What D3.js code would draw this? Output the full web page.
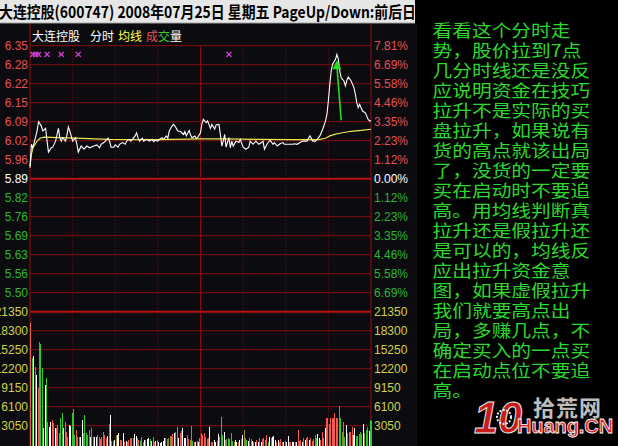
<!DOCTYPE html>
<html><head><meta charset="utf-8">
<script src="https://cdn.jsdelivr.net/npm/d3@7"></script>
<style>
html,body{margin:0;padding:0;background:#000;overflow:hidden;}
svg{display:block}
</style></head><body>
<svg id="c" width="618" height="446"></svg>
<script>
// ---------------- data ----------------
const titleText = "大连控股(600747) 2008年07月25日 星期五 PageUp/Down:前后日";
const prevClose = 5.89;
const pctStep = 0.011157;
const priceLabels = ["6.35","6.28","6.22","6.15","6.09","6.02","5.96","5.89","5.82","5.76","5.69","5.63","5.56","5.50"];
const pctLabels = ["7.81%","6.69%","5.58%","4.46%","3.35%","2.23%","1.12%","0.00%","1.12%","2.23%","3.35%","4.46%","5.58%","6.69%"];
const volTicks = [21350,18300,15250,12200,9150,6100,3050];
const volLabels = ["21350","18300","15250","12200","9150","6100","3050"];
const timeGrid = [30,60,90,120,150,180,210];

// [minute, price]
const pricePoints = [[0,5.928],[1,6.009],[2,5.997],[5,6.055],[6,6.087],[8,6.072],[9,6.055],[11,6.064],[12,6.020],[13,5.982],[15,5.997],[16,5.999],[18,6.020],[20,6.064],[21,6.032],[22,6.020],[23,6.032],[25,6.020],[26,6.041],[27,6.069],[28,6.055],[29,6.038],[30,6.020],[32,6.032],[33,6.009],[34,5.982],[36,6.003],[38,5.992],[40,6.003],[42,5.997],[45,6.003],[47,6.007],[49,5.997],[50,6.009],[52,6.015],[53,6.020],[55,6.030],[56,6.020],[57,5.999],[59,5.999],[60,6.007],[62,5.999],[63,6.009],[65,6.015],[67,6.009],[68,6.020],[70,6.026],[71,6.020],[73,6.032],[74,6.038],[75,6.049],[76,6.032],[77,6.020],[79,6.030],[80,6.020],[82,6.026],[84,6.020],[86,6.026],[87,6.018],[88,6.023],[90,6.020],[91,6.026],[93,6.032],[94,6.026],[96,6.038],[97,6.030],[98,6.055],[100,6.072],[101,6.078],[102,6.072],[103,6.064],[104,6.055],[106,6.053],[108,6.043],[109,6.053],[110,6.038],[112,6.057],[113,6.041],[114,6.032],[116,6.038],[117,6.030],[118,6.032],[120,6.049],[121,6.080],[122,6.095],[124,6.084],[125,6.090],[127,6.064],[128,6.078],[130,6.061],[131,6.076],[133,6.078],[134,6.043],[135,6.003],[136,6.020],[137,6.043],[138,5.999],[140,6.032],[141,5.997],[142,6.020],[143,6.003],[145,6.020],[147,6.015],[148,6.026],[150,5.999],[152,5.992],[154,5.999],[155,6.020],[157,6.009],[159,6.020],[161,6.009],[163,6.015],[164,6.020],[165,5.992],[167,6.011],[169,6.023],[171,6.009],[172,6.015],[174,6.003],[176,6.011],[178,6.015],[179,6.009],[181,6.009],[183,6.009],[185,6.009],[186,6.011],[188,6.009],[190,6.015],[192,6.020],[193,6.020],[195,6.020],[196,6.030],[197,6.038],[198,6.030],[199,6.020],[201,6.020],[202,6.026],[204,6.038],[206,6.061],[208,6.090],[209,6.113],[210,6.159],[211,6.216],[212,6.263],[213,6.286],[215,6.303],[216,6.320],[217,6.303],[218,6.263],[219,6.239],[221,6.228],[222,6.211],[223,6.230],[224,6.242],[226,6.228],[228,6.205],[229,6.182],[230,6.153],[231,6.136],[232,6.147],[234,6.124],[236,6.118],[238,6.095],[239,6.090],[240,6.090]];

// [minute, average price]
const avgPoints = [[0,5.934],[1,5.974],[2,5.997],[5,6.020],[7,6.030],[10,6.034],[20,6.032],[32,6.030],[55,6.026],[90,6.025],[120,6.028],[138,6.028],[161,6.026],[184,6.025],[203,6.025],[208,6.030],[211,6.038],[215,6.044],[219,6.048],[226,6.054],[233,6.057],[240,6.061]];

// volume per minute (0..240)
const volumes = [19530,13860,14180,12500,11180,9040,16420,16100,12250,2620,9580,10650,
3690,2890,3690,3960,3420,2620,2730,3160,1820,4230,5030,2620,3690,2090,1280,3160,3050,5090,5670,1550,2350,1280,1280,1280,3960,1820,4760,1820,1550,2350,1280,2620,1280,1280,1280,1550,1280,910,1280,2090,1550,1120,1440,3260,4760,590,590,750,1550,1550,1820,750,750,1820,480,590,380,750,1020,1120,1020,1660,1440,1120,750,590,1280,480,
750,750,910,1020,910,590,1280,370,590,750,370,210,480,590,1120,1020,910,1120,1440,1440,1660,1820,2090,2890,1120,1820,2190,2620,1020,1120,1550,910,750,3050,590,370,480,590,370,1120,1820,1550,1820,1280,910,1020,2840,480,370,750,480,590,1660,1280,4440,1550,2090,750,910,1120,910,1820,590,370,750,480,480,750,910,1550,2300,1120,750,590,1120,910,590,370,480,750,
480,1120,370,910,1020,750,1550,370,1230,1120,1280,1440,750,480,750,370,910,480,370,590,370,1440,370,480,480,370,370,480,2300,590,700,480,1020,750,1020,1280,750,1120,590,910,1550,1020,1660,1120,700,1980,1020,2620,4230,4230,3260,4330,4330,4230,5030,4330,4230,6260,4230,2090,3580,1280,3160,1820,2090,1980,2840,1550,2620,1440,1440,1660,2090,1660,3370,1820,2350,2890,2190,3960,3800];
// tick direction per minute: r up, g down, w flat, o mixed
const volDirs = ("rgwrwrrggwwg"+
"gwwrrwrrgggwgrrwwgggrrrwwgggrrwrrwwoorrrrrwgwrgwowwrowrwgrrrrwwrrggr"+
"wrwwgwrrwgwwwwwrooorrwogwrowwwrrorgrwgwrrrroorwgrwwrwgggwooggrgowwrwowoogwrrwrwrw"+
"rwrggrgwrwwwrwgrrwrwwgrwwrwrrrwrwrowrrrrgwwrrrwrrrrrrrroogoggwggrrwwgggggwogowggww").split("");

const markerMinutes = [2,4,6,12,22,34,140];
const markerPrice = 6.32;
const arrowFrom = [219, 6.092];
const arrowTo = [216, 6.300];

const noteLines = ["看看这个分时走","势，股价拉到7点","几分时线还是没反","应说明资金在技巧","拉升不是实际的买","盘拉升，如果说有","货的高点就该出局","了，没货的一定要","买在启动时不要追","高。用均线判断真","拉升还是假拉升还","是可以的，均线反","应出拉升资金意","图，如果虚假拉升","我们就要高点出","局，多赚几点，不","确定买入的一点买","在启动点位不要追","高。"];

// ---------------- drawing ----------------
const svg = d3.select("#c");
const W = 618, H = 446;
const L = 30, R = 371;
const pTop = 45.7, pBot = 311.7, vBot = 444.7;
const step = prevClose * pctStep;

const x = d3.scaleLinear().domain([0,240]).range([L,R]);
const yP = d3.scaleLinear().domain([prevClose-7*step, prevClose+7*step]).range([pBot,pTop]);
const yV = d3.scaleLinear().domain([0,21350]).range([vBot,pBot]);

const RED="#e85050", GRN="#2fb52f", YEL="#d2d24a", GRID="#860e0e", GRID2="#b81212";
const volColor = {r:"#f25a4e", g:"#2ec82e", w:"#ffffff", o:"#8c8c2a"};

svg.append("rect").attr("width",W).attr("height",H).attr("fill","#000");
svg.append("rect").attr("x",0).attr("y",24).attr("width",417).attr("height",H-24).attr("fill","#0b0b10");

// title bar
svg.append("rect").attr("x",0).attr("y",0).attr("width",415).attr("height",23).attr("fill","#e6e6e6");
svg.append("line").attr("x1",0).attr("x2",415).attr("y1",23).attr("y2",23).attr("stroke","#a8a8a8");
svg.append("clipPath").attr("id","tclip").append("rect").attr("x",0).attr("y",0).attr("width",414).attr("height",23);
svg.append("text").attr("clip-path","url(#tclip)")
  .attr("x",-1).attr("y",18).attr("textLength",417).attr("lengthAdjust","spacingAndGlyphs")
  .style("font","bold 16px 'Noto Sans CJK SC', sans-serif").attr("fill","#000").text(titleText);

// horizontal grid
const priceTickVals = d3.range(14).map(i => prevClose + (7-i)*step);
const grid = svg.append("g");
priceTickVals.forEach((v,i)=>{
  grid.append("line").attr("x1",L).attr("x2",R).attr("y1",yP(v)).attr("y2",yP(v))
    .attr("stroke", i===7?GRID2:GRID).attr("stroke-width", i===7?2:1);
});
volTicks.forEach((v,i)=>{
  grid.append("line").attr("x1",L).attr("x2",R).attr("y1",yV(v)).attr("y2",yV(v))
    .attr("stroke", i===0?GRID2:GRID).attr("stroke-width", i===0?2:1);
});
// vertical grid
timeGrid.forEach(t=>{
  grid.append("line").attr("x1",x(t)).attr("x2",x(t)).attr("y1",pTop).attr("y2",H)
    .attr("stroke",GRID).attr("stroke-width",1)
    .attr("stroke-dasharray", t===120? null : "1,2");
});
[L,R].forEach(xx=>{
  grid.append("line").attr("x1",xx).attr("x2",xx).attr("y1",24).attr("y2",H)
    .attr("stroke","#a00c0c").attr("stroke-width",1);
});

// volume bars
svg.append("g").attr("shape-rendering","crispEdges").selectAll("rect").data(volumes).join("rect")
  .attr("x",(d,i)=>x(i)+0.4).attr("width",1)
  .attr("y",d=>yV(d)).attr("height",d=>vBot-yV(d)+1.5)
  .attr("fill",(d,i)=>volColor[volDirs[i]]);

// lines
const line = d3.line().x(d=>x(d[0])).y(d=>yP(d[1]));
svg.append("path").datum(avgPoints).attr("d",line).attr("fill","none").attr("stroke","#e8e84a").attr("stroke-width",1.2);
svg.append("path").datum(pricePoints).attr("d",line).attr("fill","none").attr("stroke","#ffffff").attr("stroke-width",1.1);

// markers
const mk = svg.append("g").attr("stroke","#e040e0").attr("stroke-width",1.4);
markerMinutes.forEach(m=>{
  const cx=x(m), cy=yP(markerPrice);
  mk.append("line").attr("x1",cx-2.5).attr("x2",cx+2.5).attr("y1",cy-2.5).attr("y2",cy+2.5);
  mk.append("line").attr("x1",cx-2.5).attr("x2",cx+2.5).attr("y1",cy+2.5).attr("y2",cy-2.5);
});

// arrow
const ax0=x(arrowFrom[0]), ay0=yP(arrowFrom[1]), ax1=x(arrowTo[0]), ay1=yP(arrowTo[1]);
svg.append("line").attr("x1",ax0).attr("y1",ay0).attr("x2",ax1).attr("y2",ay1+6)
  .attr("stroke","#22dd22").attr("stroke-width",1.6);
svg.append("polygon").attr("points",`${ax1},${ay1} ${ax1-4.5},${ay1+9} ${ax1+4.5},${ay1+9}`).attr("fill","#22dd22");

// axes
const lblFont = "12px 'Liberation Sans', Arial, sans-serif";
function styleAxis(g, colorFn){
  g.select(".domain").remove();
  g.selectAll("text").style("font",lblFont).attr("fill",colorFn);
}
const gl = svg.append("g").attr("transform",`translate(${L},0)`)
  .call(d3.axisLeft(yP).tickValues(priceTickVals).tickFormat((d,i)=>priceLabels[i]).tickSize(0).tickPadding(2));
styleAxis(gl,(d,i)=> i<7?RED:(i===7?"#ffffff":GRN));
const gr = svg.append("g").attr("transform",`translate(${R},0)`)
  .call(d3.axisRight(yP).tickValues(priceTickVals).tickFormat((d,i)=>pctLabels[i]).tickSize(0).tickPadding(3));
styleAxis(gr,(d,i)=> i<7?RED:(i===7?"#ffffff":GRN));
const gvl = svg.append("g").attr("transform",`translate(${L},0)`)
  .call(d3.axisLeft(yV).tickValues(volTicks).tickFormat((d,i)=>volLabels[i]).tickSize(0).tickPadding(2));
styleAxis(gvl,()=>YEL);
const gvr = svg.append("g").attr("transform",`translate(${R},0)`)
  .call(d3.axisRight(yV).tickValues(volTicks).tickFormat((d,i)=>volLabels[i]).tickSize(0).tickPadding(3));
styleAxis(gvr,()=>YEL);

// subtitle
const sub = [["大连控股",32,"#ffffff"],["分时",90,"#ffffff"],["均线",118,"#ffff40"],["成",146,RED],["交",158,"#30d030"],["量",170,"#ffffff"]];
sub.forEach(s=>{
  svg.append("text").attr("x",s[1]).attr("y",40.5).attr("fill",s[2])
    .style("font","12px 'Noto Sans CJK SC', sans-serif").text(s[0]);
});

// note panel
const np = svg.append("g");
noteLines.forEach((t,i)=>{
  np.append("text").attr("transform",`translate(432.5,${30+20*i}) scale(1.16,1)`)
    .attr("dominant-baseline","central")
    .attr("fill","#2cd82c").style("font","17px 'Noto Sans CJK SC', sans-serif")
    .text(t);
});

// watermark
const wm = svg.append("g");
wm.append("text").attr("x",474).attr("y",433).attr("fill","#c81c1c").attr("stroke","#eeeeee").attr("stroke-width",1)
  .style("font","italic bold 44px 'Liberation Sans', sans-serif").attr("textLength",48).attr("lengthAdjust","spacingAndGlyphs").text("10");
wm.append("circle").attr("cx",504).attr("cy",417).attr("r",7).attr("fill","none").attr("stroke","#eeeeee").attr("stroke-width",2).attr("stroke-dasharray","2,1.5");
wm.append("text").attr("x",533).attr("y",416).attr("fill","#bdbdbd")
  .style("font","bold 22px 'Noto Sans CJK SC', sans-serif").attr("textLength",68).text("拾荒网");
wm.append("text").attr("x",517).attr("y",433).attr("fill","#dd2222").attr("stroke","#ffffff").attr("stroke-width",0.8)
  .style("font","bold 21px 'Liberation Sans', sans-serif").attr("textLength",96).attr("lengthAdjust","spacingAndGlyphs").text("Huang.CN");
</script></body></html>
